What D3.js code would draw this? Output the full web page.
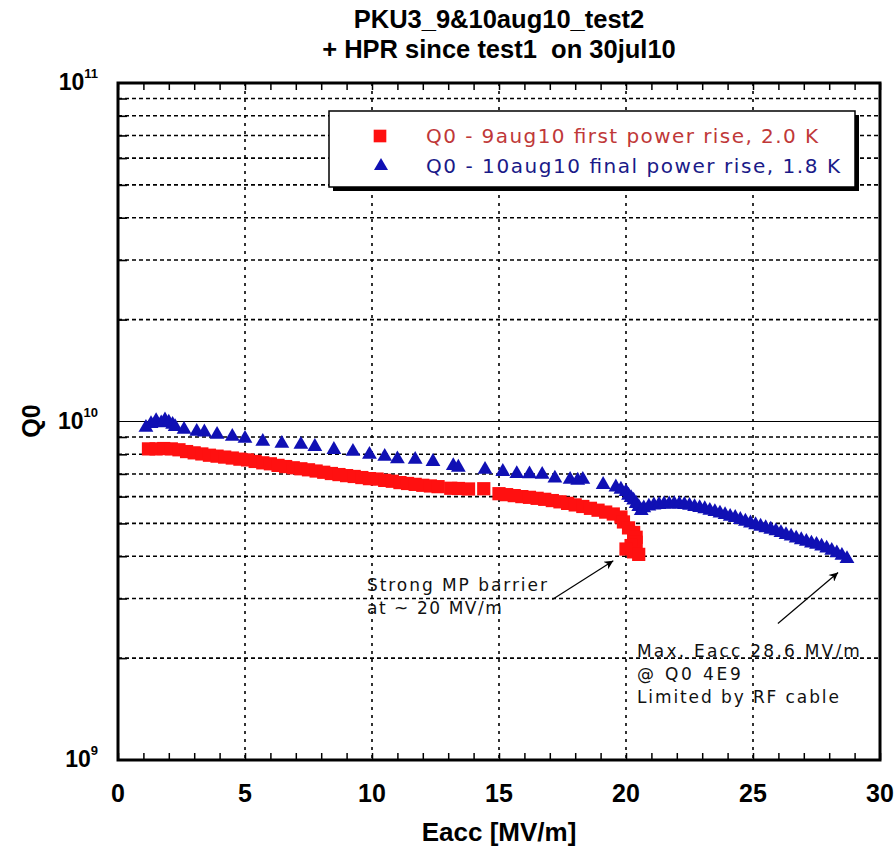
<!DOCTYPE html>
<html>
<head>
<meta charset="utf-8">
<script src="https://d3js.org/d3.v7.min.js"></script>
<style>
body { margin: 0; background: #fff; }
text { font-family: Arial, "Liberation Sans", sans-serif; }
text.thin { font-family: "DejaVu Sans", Verdana, sans-serif; }
</style>
</head>
<body>
<div id="chart"></div>
<script>
// Q0 - 9aug10 first power rise, 2.0 K
var eaccRed = [1.2, 1.5, 1.8, 2.1, 2.4, 2.7, 3.0, 3.3, 3.6, 3.9, 4.2, 4.5, 4.8, 5.1, 5.4, 5.7, 6.0, 6.3, 6.6, 6.9,
  7.2, 7.5, 7.8, 8.1, 8.4, 8.7, 9.0, 9.3, 9.6, 9.9, 10.2, 10.5, 10.8, 11.1, 11.4, 11.7, 12.0, 12.3, 12.6, 13.1,
  13.4, 13.8, 14.4, 15.0, 15.3, 15.6, 15.9, 16.2, 16.5, 16.8, 17.1, 17.4, 17.7, 18.0, 18.3, 18.6, 18.9, 19.2, 19.5, 19.8,
  19.9, 20.1, 20.3, 20.4, 20.4, 20.2, 20.0, 20.3, 20.5];
var q0Red = [8.30e9, 8.30e9, 8.32e9, 8.30e9, 8.25e9, 8.15e9, 8.08e9, 8.02e9, 7.95e9, 7.90e9, 7.85e9, 7.80e9, 7.74e9, 7.70e9, 7.62e9, 7.55e9, 7.50e9, 7.42e9, 7.36e9, 7.30e9,
  7.25e9, 7.20e9, 7.14e9, 7.08e9, 7.02e9, 6.97e9, 6.92e9, 6.88e9, 6.83e9, 6.78e9, 6.76e9, 6.70e9, 6.66e9, 6.60e9, 6.56e9, 6.52e9, 6.48e9, 6.45e9, 6.42e9, 6.35e9,
  6.34e9, 6.32e9, 6.33e9, 6.12e9, 6.08e9, 6.04e9, 6.00e9, 5.97e9, 5.93e9, 5.89e9, 5.84e9, 5.79e9, 5.73e9, 5.67e9, 5.61e9, 5.54e9, 5.47e9, 5.40e9, 5.33e9, 5.22e9,
  5.05e9, 4.85e9, 4.70e9, 4.55e9, 4.40e9, 4.30e9, 4.20e9, 4.12e9, 4.05e9];

// Q0 - 10aug10 final power rise, 1.8 K
var eaccBlue = [1.1, 1.3, 1.5, 1.7, 1.85, 2.0, 2.15, 2.25, 2.6, 3.1, 3.4, 3.9, 4.5, 5.0, 5.7, 6.45, 7.2, 7.75, 8.5, 9.25,
  9.9, 10.5, 11.0, 11.7, 12.4, 13.2, 13.4, 14.45, 15.15, 15.7, 16.2, 16.7, 17.2, 17.8, 18.1, 18.3, 19.1, 19.6, 19.8, 20.0,
  20.1, 20.2, 20.3, 20.4, 20.5, 20.6, 20.7, 20.9, 21.1, 21.3, 21.5, 21.7, 21.9, 22.1, 22.3, 22.5, 22.7, 22.9, 23.1, 23.3,
  23.5, 23.7, 23.9, 24.1, 24.3, 24.5, 24.7, 24.9, 25.1, 25.3, 25.5, 25.7, 25.9, 26.1, 26.3, 26.5, 26.7, 26.9, 27.1, 27.3,
  27.5, 27.7, 27.9, 28.1, 28.3, 28.5, 28.7];
var q0Blue = [9.60e9, 9.85e9, 10.05e9, 9.90e9, 10.1e9, 9.95e9, 9.80e9, 9.65e9, 9.47e9, 9.34e9, 9.30e9, 9.15e9, 9.03e9, 8.91e9, 8.73e9, 8.61e9, 8.55e9, 8.43e9, 8.26e9, 8.15e9,
  7.99e9, 7.88e9, 7.75e9, 7.72e9, 7.61e9, 7.40e9, 7.32e9, 7.21e9, 7.11e9, 7.01e9, 7.00e9, 6.97e9, 6.80e9, 6.74e9, 6.70e9, 6.74e9, 6.51e9, 6.40e9, 6.30e9, 6.20e9,
  6.05e9, 5.95e9, 5.85e9, 5.72e9, 5.60e9, 5.45e9, 5.55e9, 5.62e9, 5.66e9, 5.68e9, 5.70e9, 5.70e9, 5.71e9, 5.70e9, 5.68e9, 5.65e9, 5.60e9, 5.56e9, 5.52e9, 5.46e9,
  5.41e9, 5.36e9, 5.30e9, 5.24e9, 5.20e9, 5.13e9, 5.07e9, 5.01e9, 4.95e9, 4.90e9, 4.85e9, 4.80e9, 4.75e9, 4.69e9, 4.63e9, 4.58e9, 4.52e9, 4.47e9, 4.42e9, 4.37e9,
  4.33e9, 4.28e9, 4.22e9, 4.16e9, 4.09e9, 4.02e9, 3.93e9];

var xTickValues = [0, 5, 10, 15, 20, 25, 30];
var yDecades = [9, 10, 11];
var legendLabels = ["Q0 - 9aug10 first power rise, 2.0 K", "Q0 - 10aug10 final power rise, 1.8 K"];
var titleLines = ["PKU3_9&10aug10_test2", "+ HPR since test1  on 30jul10"];
var note1 = ["Strong MP barrier", "at ~ 20 MV/m"];
var note2 = ["Max. Eacc 28.6 MV/m", "@ Q0 4E9", "Limited by RF cable"];

var W = 895, H = 849;
var plot = {left: 118, right: 880, top: 83, bottom: 760};

var svg = d3.select("#chart").append("svg")
  .attr("width", W).attr("height", H);

var x = d3.scaleLinear().domain([0, 30]).range([plot.left, plot.right]);
var y = d3.scaleLog().domain([1e9, 1e11]).range([plot.bottom, plot.top]);

var defs = svg.append("defs");
defs.append("marker")
  .attr("id", "head")
  .attr("viewBox", "0 0 10 10")
  .attr("refX", 10).attr("refY", 5)
  .attr("markerWidth", 14).attr("markerHeight", 9)
  .attr("markerUnits", "userSpaceOnUse")
  .attr("orient", "auto")
  .append("path").attr("d", "M0,0 L10,5 L0,10 L3,5 Z").attr("fill", "#000");

// gridlines
var minorY = y.ticks().filter(function(v) { return Math.abs(Math.log10(v) % 1) > 1e-6; });
svg.append("g").selectAll("line").data(minorY).enter().append("line")
  .attr("x1", plot.left).attr("x2", plot.right)
  .attr("y1", function(d) { return y(d); }).attr("y2", function(d) { return y(d); })
  .attr("stroke", "#000").attr("stroke-width", 1.6).attr("stroke-dasharray", "4,3");

svg.append("line")
  .attr("x1", plot.left).attr("x2", plot.right)
  .attr("y1", y(1e10)).attr("y2", y(1e10))
  .attr("stroke", "#000").attr("stroke-width", 1.2);

svg.append("g").selectAll("line").data(xTickValues.slice(1, -1)).enter().append("line")
  .attr("x1", function(d) { return x(d); }).attr("x2", function(d) { return x(d); })
  .attr("y1", plot.top).attr("y2", plot.bottom)
  .attr("stroke", "#000").attr("stroke-width", 1.6).attr("stroke-dasharray", "3,5");

// inward ticks
svg.append("g").attr("transform", "translate(0," + plot.bottom + ")")
  .call(d3.axisBottom(x).tickValues(d3.range(0, 31)).tickSize(-7).tickFormat(""))
  .call(function(g) { g.select(".domain").remove(); g.selectAll("line").attr("stroke-width", 1.5); });
svg.append("g").attr("transform", "translate(0," + plot.top + ")")
  .call(d3.axisTop(x).tickValues(d3.range(0, 31)).tickSize(-7).tickFormat(""))
  .call(function(g) { g.select(".domain").remove(); g.selectAll("line").attr("stroke-width", 1.5); });
svg.append("g").attr("transform", "translate(" + plot.left + ",0)")
  .call(d3.axisLeft(y).tickValues(minorY).tickSize(-9).tickFormat(""))
  .call(function(g) { g.select(".domain").remove(); g.selectAll("line").attr("stroke-width", 1.6); });

// data
var red = eaccRed.map(function(e, i) { return [e, q0Red[i]]; });
var blue = eaccBlue.map(function(e, i) { return [e, q0Blue[i]]; });
var sq = d3.symbol().type(d3.symbolSquare).size(175);
var tri = d3.symbol().type(d3.symbolTriangle).size(95);

svg.append("g").selectAll("path").data(red).enter().append("path")
  .attr("d", sq)
  .attr("transform", function(d) { return "translate(" + x(d[0]) + "," + y(d[1]) + ")"; })
  .attr("fill", "#ff1010");
svg.append("g").selectAll("path").data(blue).enter().append("path")
  .attr("d", tri)
  .attr("transform", function(d) { return "translate(" + x(d[0]) + "," + y(d[1]) + ")"; })
  .attr("fill", "#1010b4");

// frame
svg.append("rect")
  .attr("x", plot.left).attr("y", plot.top)
  .attr("width", plot.right - plot.left).attr("height", plot.bottom - plot.top)
  .attr("fill", "none").attr("stroke", "#000").attr("stroke-width", 3);

// legend
var lg = svg.append("g").attr("transform", "translate(329,111)");
lg.append("rect").attr("x", 4).attr("y", 4).attr("width", 526).attr("height", 76).attr("fill", "#000");
lg.append("rect").attr("width", 526).attr("height", 76).attr("fill", "#fff").attr("stroke", "#000").attr("stroke-width", 1.5);
lg.append("path").attr("d", d3.symbol().type(d3.symbolSquare).size(160)).attr("transform", "translate(51,25)").attr("fill", "#ff1010");
lg.append("path").attr("d", d3.symbol().type(d3.symbolTriangle).size(85)).attr("transform", "translate(52,55)").attr("fill", "#1010b4");
lg.append("text").attr("class", "thin").attr("x", 97).attr("y", 32).attr("font-size", 20)
  .attr("textLength", 392).attr("lengthAdjust", "spacing")
  .attr("fill", "#c03838").text(legendLabels[0]);
lg.append("text").attr("class", "thin").attr("x", 97).attr("y", 62).attr("font-size", 20)
  .attr("textLength", 414).attr("lengthAdjust", "spacing")
  .attr("fill", "#1a1a88").text(legendLabels[1]);

// annotations
function note(lines, pos, lens) {
  var g = svg.append("g");
  lines.forEach(function(s, i) {
    g.append("text").attr("class", "thin").attr("x", x(pos[0])).attr("y", y(pos[1]) + i * 23)
      .attr("font-size", 17).attr("fill", "#111")
      .attr("textLength", lens[i]).attr("lengthAdjust", "spacing")
      .text(s);
  });
}
function arrow(from, to) {
  svg.append("line")
    .attr("x1", x(from[0])).attr("y1", y(from[1]))
    .attr("x2", x(to[0])).attr("y2", y(to[1]))
    .attr("stroke", "#000").attr("stroke-width", 1.2)
    .attr("marker-end", "url(#head)");
}
note(note1, [9.8, 3.15e9], [180, 135]);
arrow([17.1, 2.98e9], [19.5, 3.88e9]);
note(note2, [20.43, 2.01e9], [223, 104, 202]);
arrow([25.98, 2.53e9], [28.35, 3.58e9]);

// tick labels
svg.append("g").selectAll("text").data(xTickValues).enter().append("text")
  .attr("x", function(d) { return x(d); }).attr("y", 802)
  .attr("text-anchor", "middle").attr("font-size", 25).attr("font-weight", "bold")
  .text(function(d) { return d; });

var yl = svg.append("g").selectAll("text").data(yDecades).enter().append("text")
  .attr("x", 98).attr("y", function(d) { return y(Math.pow(10, d)) + 7; })
  .attr("text-anchor", "end").attr("font-size", 23).attr("font-weight", "bold");
yl.append("tspan").text("10");
yl.append("tspan").attr("dy", -12).attr("font-size", 13).text(function(d) { return d; });

// titles
svg.append("g").selectAll("text").data(titleLines).enter().append("text")
  .attr("x", 499).attr("y", function(d, i) { return 28 + i * 30; })
  .attr("text-anchor", "middle").attr("font-size", 25.5).attr("font-weight", "bold")
  .style("white-space", "pre")
  .text(function(d) { return d; });

svg.append("text")
  .attr("x", 499).attr("y", 841)
  .attr("text-anchor", "middle").attr("font-size", 26).attr("font-weight", "bold")
  .text("Eacc [MV/m]");

svg.append("text")
  .attr("transform", "translate(40,421) rotate(-90)")
  .attr("text-anchor", "middle").attr("font-size", 25).attr("font-weight", "bold")
  .text("Q0");
</script>
</body>
</html>
